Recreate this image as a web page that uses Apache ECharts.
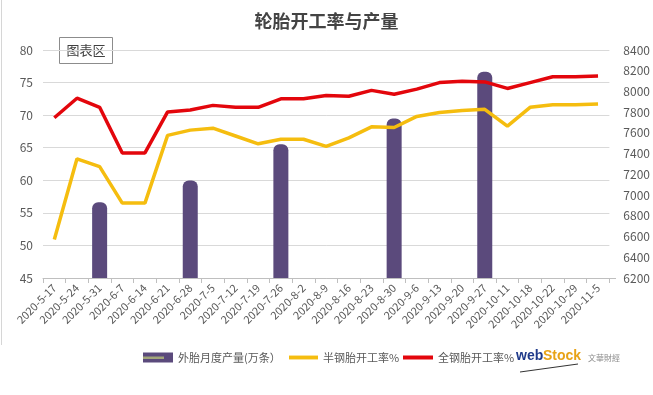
<!DOCTYPE html>
<html><head><meta charset="utf-8">
<script src="https://cdn.jsdelivr.net/npm/echarts@6/dist/echarts.min.js"></script>
<style>html,body{margin:0;padding:0;background:#fff}#c{width:653px;height:395px}</style>
</head><body><div id="c"></div>
<script>
var categories = ['2020-5-17','2020-5-24','2020-5-31','2020-6-7','2020-6-14','2020-6-21','2020-6-28','2020-7-5','2020-7-12','2020-7-19','2020-7-26','2020-8-2','2020-8-9','2020-8-16','2020-8-23','2020-8-30','2020-9-6','2020-9-13','2020-9-20','2020-9-27','2020-10-11','2020-10-18','2020-10-22','2020-10-29','2020-11-5'];
var tireOutput = [null,null,6930,null,null,null,7140,null,null,null,7490,null,null,null,null,7740,null,null,null,8190,null,null,null,null,null];
var semiSteel = [50.9,63.3,62.1,56.5,56.5,66.9,67.7,68.0,66.8,65.6,66.3,66.3,65.2,66.5,68.2,68.1,69.8,70.4,70.7,70.9,68.3,71.2,71.6,71.6,71.7];
var allSteel = [69.6,72.6,71.2,64.2,64.2,70.5,70.8,71.5,71.2,71.2,72.5,72.5,73.0,72.9,73.8,73.2,74.0,75.0,75.2,75.1,74.1,75.0,75.9,75.9,76.0];
var seriesNames = ['外胎月度产量(万条）','半钢胎开工率%','全钢胎开工率%'];

var font = '"Noto Sans CJK SC", "Noto Sans", sans-serif';
var lineIcon = 'path://M0 0H30V4H0Z';
var legendText = {fontSize: 11, color: '#595959', fontFamily: font};
var chart = echarts.init(document.getElementById('c'));
chart.setOption({
  backgroundColor: '#fff',
  animation: false,
  textStyle: {fontFamily: font},
  title: {
    text: '轮胎开工率与产量', left: 'center', top: 7,
    textStyle: {fontSize: 18, fontWeight: 'bold', color: '#444', fontFamily: font}
  },
  legend: [
    {left: 138, top: 347, itemWidth: 30, itemHeight: 10, textStyle: legendText,
     data: [{name: seriesNames[0], icon: 'rect'}]},
    {left: 284, top: 347, itemWidth: 29, itemHeight: 10, textStyle: legendText,
     data: [{name: seriesNames[1], icon: lineIcon}]},
    {left: 398, top: 347, itemWidth: 30, itemHeight: 10, textStyle: legendText,
     data: [{name: seriesNames[2], icon: lineIcon}]}
  ],
  grid: {left: 43, right: 43, top: 50, bottom: 117},
  xAxis: {
    type: 'category', data: categories, boundaryGap: true,
    axisLine: {lineStyle: {color: '#bfbfbf'}},
    axisTick: {show: true, length: 5, lineStyle: {color: '#bfbfbf'}},
    axisLabel: {rotate: 45, fontSize: 11, color: '#595959', interval: 0, margin: 8}
  },
  yAxis: [
    {type: 'value', min: 45, max: 80, interval: 5,
     axisLine: {show: false}, axisTick: {show: false},
     axisLabel: {fontSize: 12, color: '#595959', margin: 10},
     splitLine: {lineStyle: {color: '#d9d9d9'}}},
    {type: 'value', min: 6200, max: 8400, interval: 200, position: 'right',
     axisLine: {show: false}, axisTick: {show: false},
     axisLabel: {fontSize: 12, color: '#595959', margin: 14, formatter: function (v) { return String(v); }},
     splitLine: {show: false}}
  ],
  series: [
    {name: seriesNames[0], type: 'bar', yAxisIndex: 1, data: tireOutput, barWidth: 15,
     itemStyle: {color: '#5b4a7c', borderRadius: [6,6,0,0]}},
    {name: seriesNames[1], type: 'line', yAxisIndex: 0, data: semiSteel, symbol: 'none',
     lineStyle: {color: '#f5bd0f', width: 3.5}, itemStyle: {color: '#f5bd0f'}},
    {name: seriesNames[2], type: 'line', yAxisIndex: 0, data: allSteel, symbol: 'none',
     lineStyle: {color: '#e3060c', width: 3.5}, itemStyle: {color: '#e3060c'}}
  ],
  graphic: [
    {type: 'line', shape: {x1: 1.5, y1: 0, x2: 1.5, y2: 345}, style: {stroke: '#d6d6d6', lineWidth: 1}},
    {type: 'line', shape: {x1: 610, y1: 278.5, x2: 616, y2: 278.5}, style: {stroke: '#bfbfbf', lineWidth: 1}},
    {type: 'rect', shape: {x: 59.5, y: 37.5, width: 53, height: 26},
     style: {fill: '#fff', stroke: '#8c8c8c', lineWidth: 1}},
    {type: 'text', x: 86, y: 50, style: {text: '图表区', fontSize: 13, fill: '#404040', fontFamily: font, align: 'center', verticalAlign: 'middle'}},
    {type: 'rect', shape: {x: 143, y: 356.5, width: 21, height: 2.5}, style: {fill: '#a3a67a'}, z: 100},
    {type: 'text', x: 516, y: 349, style: {text: 'web', fontSize: 14, fontWeight: 'bold', fill: '#1f3a8a', fontFamily: 'Liberation Sans, sans-serif'}},
    {type: 'text', x: 543, y: 349, style: {text: 'Stock', fontSize: 14, fontWeight: 'bold', fill: '#e8a317', fontFamily: 'Liberation Sans, sans-serif'}},
    {type: 'text', x: 588, y: 354, style: {text: '文華財經', fontSize: 8, fill: '#8c8c8c', fontFamily: '"Noto Sans CJK TC", sans-serif'}},
    {type: 'line', shape: {x1: 520, y1: 372, x2: 578, y2: 364}, style: {stroke: '#333', lineWidth: 1}}
  ]
});
</script></body></html>
